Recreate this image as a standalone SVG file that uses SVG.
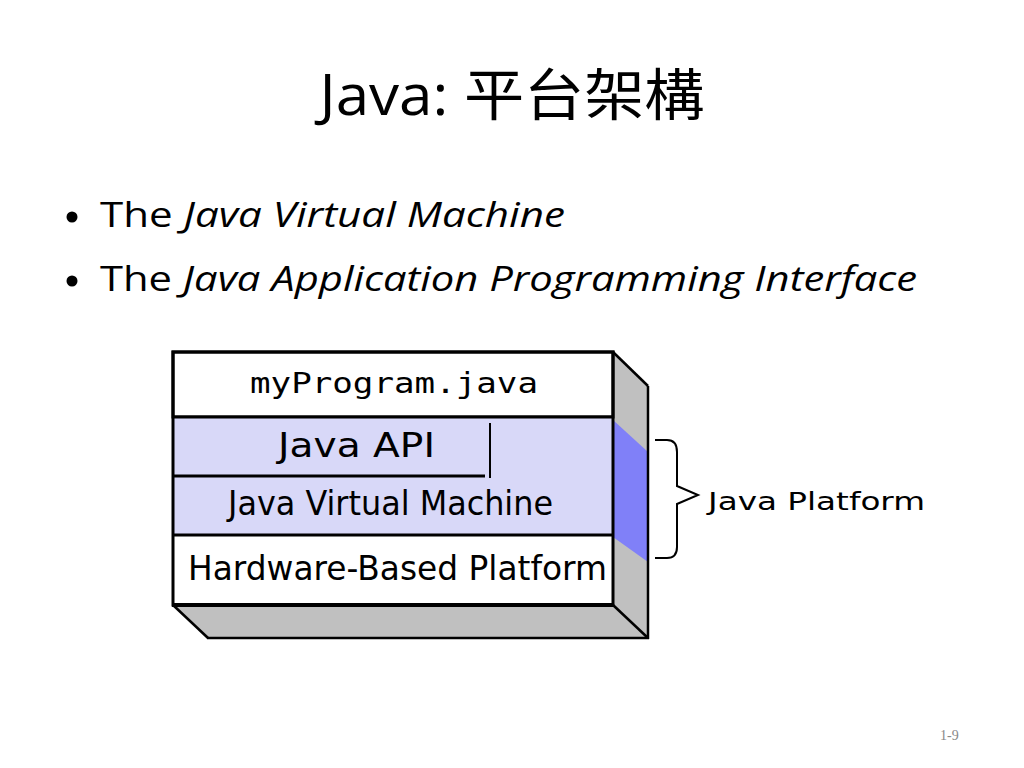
<svg xmlns="http://www.w3.org/2000/svg" width="1024" height="768" viewBox="0 0 1024 768">
<style>
.title{font-family:"Open Sans","Noto Sans CJK TC",sans-serif;font-size:56px;fill:#000}
.bul{font-family:"Open Sans","Liberation Sans",sans-serif;font-size:34px;fill:#000}
.it{font-style:italic}
.px{font-family:"DejaVu Sans","Liberation Sans",sans-serif;font-size:33px;fill:#000}
.mono{font-family:"DejaVu Sans Mono","Liberation Mono",monospace;font-size:29px;fill:#000}
.edge{stroke:#000;stroke-width:2.5;fill:none}
.gray{fill:#c0c0c0}
</style>
<rect width="1024" height="768" fill="#fff"/>
<g id="title">
<text class="title" x="512" y="115" text-anchor="middle" textLength="385" lengthAdjust="spacingAndGlyphs">Java: 平台架構</text>
</g>
<g id="bullets">
<circle cx="72" cy="217" r="5.5" fill="#000"/>
<text class="bul" x="100" y="227" textLength="465" lengthAdjust="spacingAndGlyphs">The <tspan class="it">Java Virtual Machine</tspan></text>
<circle cx="72" cy="281" r="5.5" fill="#000"/>
<text class="bul" x="100" y="291" textLength="817" lengthAdjust="spacingAndGlyphs">The <tspan class="it">Java Application Programming Interface</tspan></text>
</g>
<g id="box3d">
<polygon class="gray" points="613,352 648,386 648,638 613,605"/>
<polygon fill="#8080f8" points="613,420 648,452 648,562 613,537"/>
<polygon class="gray" points="173,605 208,638 648,638 613,605"/>
<line class="edge" x1="613" y1="352" x2="648" y2="386"/>
<line class="edge" x1="648" y1="386" x2="648" y2="639"/>
<line class="edge" x1="207" y1="638" x2="649" y2="638"/>
<line class="edge" x1="173" y1="605" x2="208" y2="638"/>
<line class="edge" x1="613" y1="605" x2="648" y2="638"/>
</g>
<g id="myProgram">
<rect x="173" y="352" width="440" height="65" fill="#fff" stroke="#000" stroke-width="3"/>
<text class="mono" x="250" y="393" textLength="288" lengthAdjust="spacingAndGlyphs">myProgram.java</text>
</g>
<g id="javaAPI">
<rect x="173" y="417" width="440" height="118" fill="#d8d8f8"/>
<line x1="173" y1="476" x2="485" y2="476" stroke="#000" stroke-width="3"/>
<line x1="490" y1="423" x2="490" y2="478" stroke="#000" stroke-width="2"/>
<text class="px" x="278" y="457" textLength="157" lengthAdjust="spacingAndGlyphs">Java API</text>
</g>
<g id="jvm">
<text class="px" x="228" y="515" textLength="325" lengthAdjust="spacingAndGlyphs">Java Virtual Machine</text>
</g>
<g id="hardware">
<rect x="173" y="535" width="440" height="70" fill="#fff"/>
<text class="px" x="188" y="580" textLength="419" lengthAdjust="spacingAndGlyphs">Hardware-Based Platform</text>
</g>
<g id="frontOutline">
<rect x="173" y="352" width="440" height="253" fill="none" stroke="#000" stroke-width="3"/>
<line x1="173" y1="417" x2="613" y2="417" stroke="#000" stroke-width="3"/>
<line x1="173" y1="535" x2="613" y2="535" stroke="#000" stroke-width="3"/>
<line x1="172" y1="605" x2="614" y2="605" stroke="#000" stroke-width="4"/>
</g>
<g id="connectors">
<path d="M655,440 L667,440 Q677,440 677,452 L677,486 L698,495 L677,504 L677,547 Q677,558 667,558 L655,558" fill="none" stroke="#000" stroke-width="2"/>
</g>
<g id="javaPlatform">
<text class="px" x="708" y="510" style="font-size:25px" textLength="217" lengthAdjust="spacingAndGlyphs">Java Platform</text>
</g>
<g id="pageNum">
<text x="940" y="740" font-family="Liberation Serif,serif" font-size="14" fill="#888">1-9</text>
</g>
</svg>
